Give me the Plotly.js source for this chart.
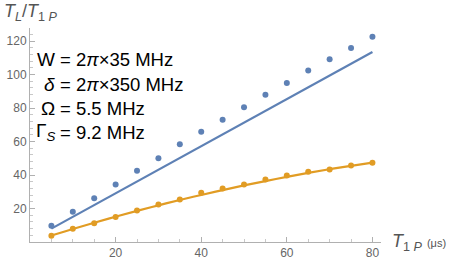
<!DOCTYPE html>
<html><head><meta charset="utf-8">
<script src="https://cdn.plot.ly/plotly-3.0.1.min.js"></script>
<style>html,body{margin:0;padding:0;background:#fff}#plot{width:450px;height:264px}</style>
</head><body><div id="plot"></div>
<script>
const T1P = [5,10,15,20,25,30,35,40,45,50,55,60,65,70,75,80];
const blueDots = [9.7,18.0,26.1,34.3,42.5,50.0,58.4,65.8,73.0,80.5,88.0,95.0,102.4,109.1,115.9,122.5];
const orangeDots = [3.7,7.9,11.2,15.0,18.8,22.4,25.4,29.4,31.9,34.3,37.3,39.7,41.9,43.3,45.7,47.3];
const blueFitX = [5,80];
const blueFitY = [8.0,113.5];
const orangeFitY = [3.9,7.8,11.5,15.1,18.6,21.9,25.1,28.1,31.0,33.8,36.4,38.9,41.3,43.5,45.5,47.4];
const xTicks = [20,40,60,80];
const yTicks = [20,40,60,80,100,120];
const paramNames = ['W','<i>δ</i>','Ω','Γ<sub><i>S</i></sub>'];
const paramValues = ['= 2<i>π</i>×35 MHz','= 2<i>π</i>×350 MHz','= 5.5 MHz','= 9.2 MHz'];

const blue = '#5E81B5', orange = '#E19C24';
const traces = [
  {x: blueFitX, y: blueFitY, mode:'lines', line:{color:blue,width:2.2}, hoverinfo:'skip'},
  {x: T1P, y: orangeFitY, mode:'lines', line:{color:orange,width:2.2,shape:'spline'}, hoverinfo:'skip'},
  {x: T1P, y: blueDots, mode:'markers', marker:{color:blue,size:6}},
  {x: T1P, y: orangeDots, mode:'markers', marker:{color:orange,size:6}}
];
const L = 30, T = 28;
const lineCenter = [59,84,108,132];
const FONT = 'Liberation Sans, Arial, sans-serif';
const ann = [];
paramNames.forEach((t,i)=>{
  ann.push({xref:'paper', yref:'paper', x:0, y:1, xanchor:'right', yanchor:'middle',
    xshift: 57-L, yshift: -(lineCenter[i]-T), text:t, showarrow:false,
    font:{family:FONT, size:19, color:'#000'}});
  ann.push({xref:'paper', yref:'paper', x:0, y:1, xanchor:'left', yanchor:'middle',
    xshift: 58-L, yshift: -(lineCenter[i]-T), text:paramValues[i], showarrow:false,
    font:{family:FONT, size:18.5, color:'#000'}});
});
ann.push({xref:'paper', yref:'paper', x:0, y:1, xanchor:'left', yanchor:'middle',
  xshift: 2-L, yshift: -(12-T), showarrow:false,
  text:'<i>T<sub>L</sub></i>/<i>T</i><sub>1 <i>P</i></sub>',
  font:{family:FONT, size:18, color:'#555'}});
ann.push({xref:'paper', yref:'paper', x:1, y:0, xanchor:'left', yanchor:'middle',
  xshift: 390-381, yshift: 0, showarrow:false,
  text:'<i>T</i><sub>1 <i>P</i></sub> <span style="font-size:11px">(μs)</span>',
  font:{family:FONT, size:18, color:'#555'}});

const axisCommon = {showgrid:false, zeroline:false, showline:true, linecolor:'#b0b0b0', linewidth:1,
  ticks:'inside', ticklen:5, tickcolor:'#b0b0b0', tickwidth:1,
  tickfont:{family:FONT, size:12, color:'#666'}};
const layout = {
  width:450, height:264, margin:{l:L, r:69, t:T, b:22},
  paper_bgcolor:'#fff', plot_bgcolor:'#fff', showlegend:false,
  xaxis: Object.assign({}, axisCommon, {range:[0,82], tickvals:xTicks, ticktext:xTicks.map(String),
    minor:{dtick:5, tick0:0, ticklen:3, tickcolor:'#c8c8c8', ticks:'inside'}}),
  yaxis: Object.assign({}, axisCommon, {range:[0,127.8], tickvals:yTicks, ticktext:yTicks.map(String),
    minor:{dtick:4, tick0:0, ticklen:3, tickcolor:'#c8c8c8', ticks:'inside'}}),
  annotations: ann
};
Plotly.newPlot('plot', traces, layout, {displayModeBar:false, staticPlot:true});
</script></body></html>
